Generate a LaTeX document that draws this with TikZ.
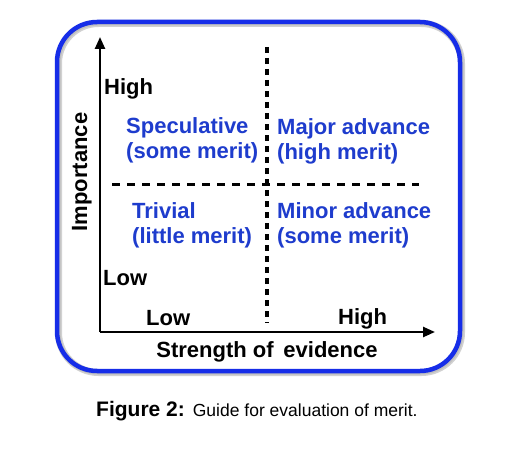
\documentclass[tikz,border=0pt]{standalone}
\usepackage{fontspec}
\setmainfont{Liberation Sans}
\usetikzlibrary{arrows.meta}
\definecolor{frameblue}{RGB}{22,45,232}
\definecolor{quadblue}{RGB}{30,60,205}
\tikzset{
  lbl/.style={anchor=base west, inner sep=0pt, font=\fontsize{22}{25}\selectfont\bfseries},
  quad/.style={lbl, text=quadblue, align=left},
  axis/.style={line width=2.4pt, -{Triangle[length=12pt,width=10pt]}},
  divider/.style={line width=3.2pt},
}
\begin{document}
\begin{tikzpicture}[x=1pt,y=-1pt]
\useasboundingbox (0,0) rectangle (517,452);
\fill[white] (0,0) rectangle (517,452);
% frame with soft shadow
\draw[line width=7pt, black!18, rounded corners=40pt] (58.5,23.5) rectangle (461.5,372.5);
\draw[line width=5pt, black!25, rounded corners=40pt] (58,23) rectangle (461,372);
\draw[line width=4.5pt, frameblue, rounded corners=40pt] (57,22) rectangle (460,371);
% axes
\coordinate (O) at (100,332);
\coordinate (ytip) at (100,37);
\coordinate (xtip) at (435,332);
\draw[axis] (O) -- (ytip);
\draw[axis] (O) -- (xtip);
% dividers
\coordinate (vtop) at (267,47);
\coordinate (vbot) at (267,323);
\coordinate (hl) at (112,184.5);
\coordinate (hr) at (419,184.5);
\draw[divider, dash pattern=on 6pt off 5pt] (vtop) -- (vbot);
\draw[divider, dash pattern=on 7.5pt off 7.5pt] (hl) -- (hr);
% axis labels
\node[lbl] (yhigh) at (104,95) {High};
\node[lbl] (ylow) at (103,285) {Low};
\node[lbl] (xlow) at (146,325) {Low};
\node[lbl] (xhigh) at (338,324) {High};
\node[lbl, anchor=base] (xtitle) at (267,357) {Strength of\ \,evidence};
\node[lbl, anchor=base, rotate=90] (ytitle) at (87,172) {Importance};
% quadrants (anchor = baseline of the second line)
\node[quad] (spec) at (126,158) {Speculative\\[0pt](some merit)};
\node[quad] (major) at (277,159) {Major advance\\[0pt](high merit)};
\node[quad] (triv) at (132,243) {Trivial\\[0pt](little merit)};
\node[quad] (minor) at (277,243) {Minor advance\\[0pt](some merit)};
% caption
\node[anchor=base west, inner sep=0pt] (cap) at (96,416)
  {{\fontsize{21}{24}\selectfont\bfseries Figure 2:}\hspace{8pt}{\fontsize{17.5}{20}\selectfont Guide for evaluation of merit.}};
\end{tikzpicture}
\end{document}
